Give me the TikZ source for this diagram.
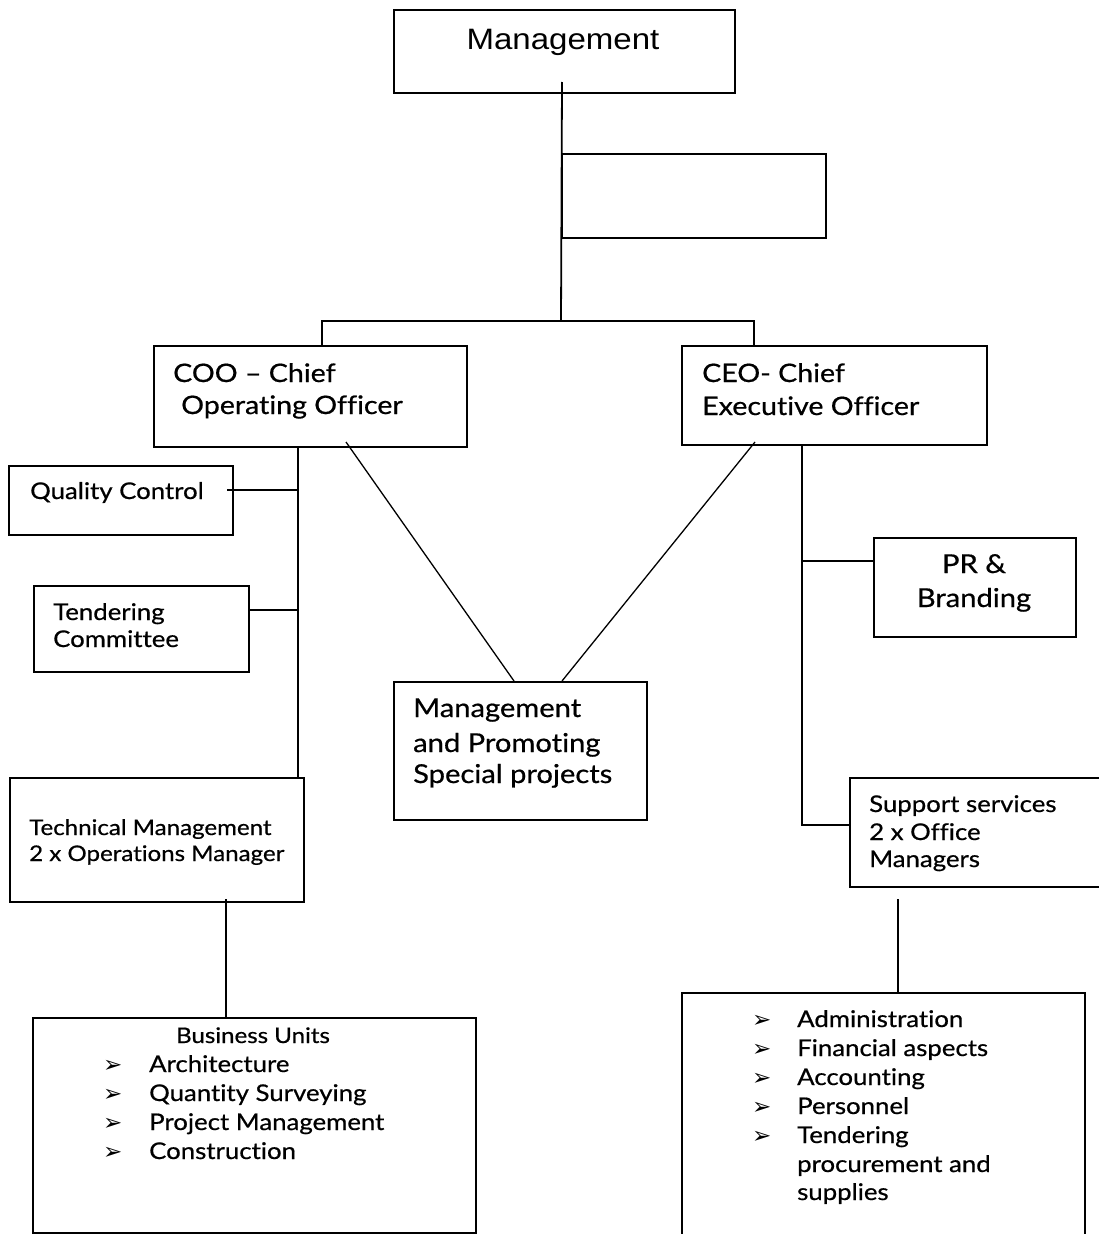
\documentclass[tikz,border=0pt]{standalone}
\usepackage{fontspec}
\setmainfont{Lato}[FakeStretch=1.12, FakeBold=0.6, Ligatures=NoCommon]
\newfontfamily\headfont{Liberation Sans}[FakeStretch=1.12]
\newfontfamily\bulletfont{DejaVu Sans}

\tikzset{
  box/.style={draw, line width=2pt, inner sep=0pt, anchor=north west},
  link/.style={line width=1.8pt},
  slant/.style={line width=1.3pt},
  txt/.style={anchor=base west, inner sep=0pt},
  big/.style={txt, font=\fontsize{25.5}{30}\selectfont},
  large/.style={txt, font=\fontsize{26}{30}\selectfont},
  mid/.style={txt, font=\fontsize{23}{28}\selectfont},
  small/.style={txt, font=\fontsize{21.5}{26}\selectfont},
  bullet/.style={txt, font=\bulletfont\fontsize{23}{26}\selectfont},
}

\begin{document}
\begin{tikzpicture}[x=1pt, y=-1pt]
        \useasboundingbox (0,0) rectangle (1099,1234);
        \clip (0,0) rectangle (1099,1234);

        % Boxes
        \node[box, minimum width=341pt, minimum height=83pt] (mgmt) at (393,9) {};
        \node[box, minimum width=264pt, minimum height=84pt] (blank) at (561,153) {};
        \node[box, minimum width=313pt, minimum height=101pt] (coo) at (153,345) {};
        \node[box, minimum width=305pt, minimum height=99pt] (ceo) at (681,345) {};
        \node[box, minimum width=224pt, minimum height=69pt] (qc) at (8,465) {};
        \node[box, minimum width=215pt, minimum height=86pt] (tc) at (33,585) {};
        \node[box, minimum width=202pt, minimum height=99pt] (pr) at (873,537) {};
        \node[box, minimum width=253pt, minimum height=138pt] (mp) at (393,681) {};
        \node[box, minimum width=294pt, minimum height=124pt] (tm) at (9,777) {};
        \node[box, minimum width=261pt, minimum height=109pt] (ss) at (849,777) {};
        \node[box, minimum width=443pt, minimum height=215pt] (bu) at (32,1017) {};
        \node[box, minimum width=403pt, minimum height=260pt] (ops) at (681,992) {};

        % Top of the tree
        \coordinate (split) at (561,321);
        \draw[link] ([shift={(-2.5pt,12pt)}]mgmt.south) -- (split);
        \draw[link] ([xshift=11.5pt]coo.north) |- (split) -| ([xshift=-80.5pt]ceo.north);

        % COO side
        \coordinate (cooline) at ([xshift=-12.5pt]coo.south);
        \draw[link] (cooline) -- (cooline |- tm.north);
        \draw[link] ([shift={(-7pt,10.5pt)}]qc.east) coordinate (qcend) -- (qcend -| cooline);
        \draw[link] ([yshift=19pt]tc.east) coordinate (tcend) -- (tcend -| cooline);
        \draw[link] ([shift={(69pt,4pt)}]tm.south) coordinate (tmend) -- (tmend |- bu.north);

        % Special projects
        \draw[slant] ([shift={(35.5pt,6pt)}]coo.south) -- ([xshift=-6.5pt]mp.north);
        \draw[slant] ([shift={(-79.5pt,4pt)}]ceo.south) -- ([xshift=41.5pt]mp.north);

        % CEO side
        \coordinate (ceoline) at ([xshift=-32.5pt]ceo.south);
        \draw[link] (ceoline) |- ([yshift=7.5pt]ss.west);
        \draw[link] ([yshift=26.5pt]pr.west) coordinate (prend) -- (prend -| ceoline);
        \draw[link] ([shift={(-82.5pt,-11pt)}]ss.south) coordinate (ssend) -- (ssend |- ops.north);

        % Labels
        \node[anchor=base, inner sep=0pt, font=\headfont\fontsize{29.5}{35}\selectfont] (mgmt-t) at (563,49) {Management};
        \node[big] (coo-1) at (173,382) {COO – Chief};
        \node[big] (coo-2) at (181,414) {Operating Officer};
        \node[big] (ceo-1) at (702,382) {CEO- Chief};
        \node[big] (ceo-2) at (702,415) {Executive Officer};
        \node[mid] (qc-t) at (30,499) {Quality Control};
        \node[mid] (tc-1) at (53,620) {Tendering};
        \node[mid] (tc-2) at (53,647) {Committee};
        \node[large, anchor=base] (pr-1) at (974,573) {PR \&};
        \node[large, anchor=base] (pr-2) at (974,607) {Branding};
        \node[large] (mp-1) at (413,717) {Management};
        \node[large] (mp-2) at (413,752) {and Promoting};
        \node[large] (mp-3) at (413,783) {Special projects};
        \node[small] (tm-1) at (29,835) {Technical Management};
        \node[small] (tm-2) at (29,861) {2 x Operations Manager};
        \node[mid] (ss-1) at (869,812) {Support services};
        \node[mid] (ss-2) at (869,840) {2 x Office};
        \node[mid] (ss-3) at (869,867) {Managers};

        % Business units list
        \node[small, anchor=base] (bu-t) at (253,1043) {Business Units};
        \foreach \unit [count=\i] in {Architecture, Quantity Surveying, Project Management, Construction} {
          \node[bullet] (bub-\i) at (103, {1043+29*\i}) {➢};
          \node[mid] (bu-\i) at (149, {1043+29*\i}) {\unit};
        }

        % Support list
        \foreach \task [count=\i] in {Administration, Financial aspects, Accounting, Personnel, Tendering} {
          \node[bullet] (opb-\i) at (752, {998+29*\i}) {➢};
          \node[mid] (op-\i) at (797, {998+29*\i}) {\task};
        }
        \node[mid] (op-6) at (797,1172) {procurement and};
        \node[mid] (op-7) at (797,1200) {supplies};
\end{tikzpicture}
\end{document}
